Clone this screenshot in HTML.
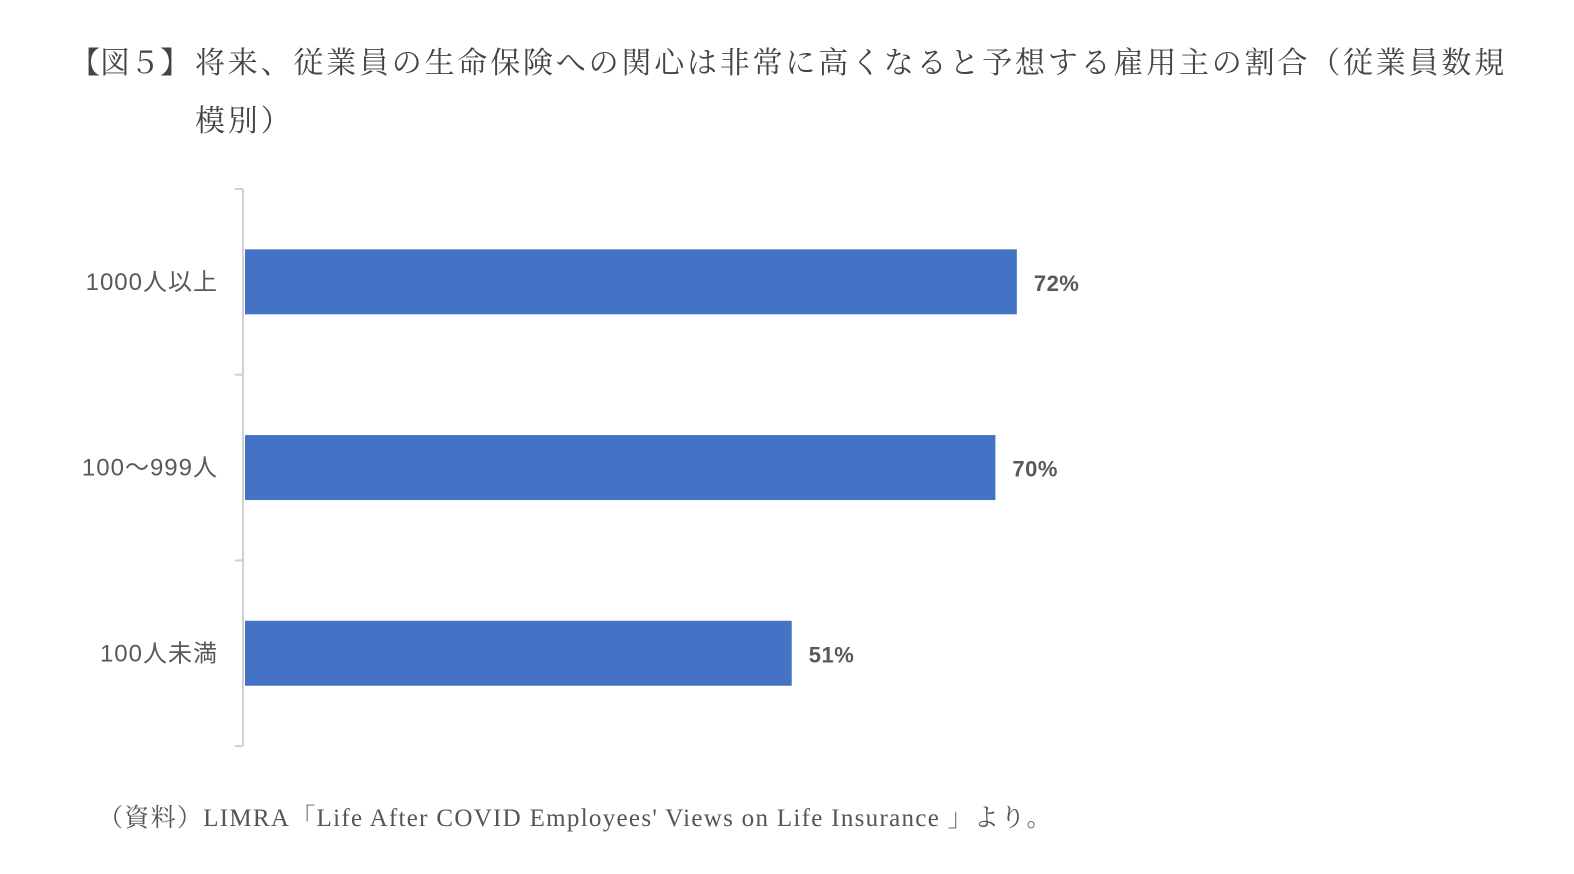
<!DOCTYPE html>
<html><head><meta charset="utf-8"><style>
body{margin:0;width:1574px;height:874px;background:#fff;position:relative;overflow:hidden;font-family:"Liberation Serif","Noto Serif CJK SC","Noto Sans CJK JP",serif;color:#444}
.t{position:absolute;font-size:30px;line-height:30px;white-space:nowrap;color:#444}
</style></head><body>
<div class="t" style="left:70px;top:49px;letter-spacing:0px">【図５】</div>
<div class="t" style="left:195px;top:49px;letter-spacing:2.8px">将来、従業員の生命保険への関心は非常に高くなると予想する雇用主の割合（従業員数規</div>
<div class="t" style="left:195px;top:107px;letter-spacing:2.8px">模別）</div>
<svg id="chart" width="1574" height="874" style="position:absolute;left:0;top:0"></svg>
<div class="t" style="left:98px;top:804px;font-size:25px;color:#555;letter-spacing:1.3px">（資料）LIMRA「Life After COVID Employees' Views on Life Insurance 」より。</div>
<script>
const categories=["1000人以上","100〜999人","100人未満"];
const values=[72,70,51];
const valueLabels=["72%","70%","51%"];
const svg=document.getElementById('chart');
const NS='http://www.w3.org/2000/svg';
const x0=245,pxPer=10.72,top0=189,bandH=185.7,barH=65;
const xs=v=>x0+v*pxPer;
const yb=i=>top0+i*bandH;
function mk(t,a){const e=document.createElementNS(NS,t);for(const k in a)e.setAttribute(k,a[k]);svg.appendChild(e);return e;}
const ax=mk('line',{x1:243,x2:243,y1:top0,y2:top0+bandH*categories.length,stroke:'#d0d0d0','stroke-width':2});


for(let i=0;i<=categories.length;i++){
 const tk=mk('line',{x1:235,x2:243,y1:yb(i),y2:yb(i),stroke:'#d0d0d0','stroke-width':2});
 
 
}
categories.forEach((c,i)=>{
 const cy=yb(i)+bandH/2;
 const r=mk('rect',{x:x0,y:cy-barH/2,width:xs(values[i])-x0,height:barH,fill:'#4472c4'});
 
 
 const l=mk('text',{x:218,y:cy+8,'text-anchor':'end','font-size':24,'letter-spacing':1,fill:'#595959','font-family':'"Liberation Sans","Noto Sans CJK JP",sans-serif'});
 l.textContent=c;
 
 
 const v=mk('text',{x:xs(values[i])+17,y:cy+9,'font-size':22,'font-weight':'bold','letter-spacing':0.5,fill:'#595959','font-family':'"Liberation Sans",sans-serif'});
 v.textContent=valueLabels[i];
 
 
});
</script>
</body></html>
